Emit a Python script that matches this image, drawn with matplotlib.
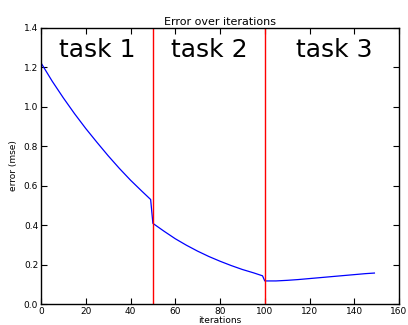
import matplotlib
matplotlib.use("Agg")
import matplotlib.pyplot as plt

# iteration values and error (mse)
iters = [0, 5, 10, 15, 20, 25, 30, 35, 40, 45, 49,
         50, 55, 60, 65, 70, 75, 80, 85, 90, 95, 99,
         100, 105, 110, 115, 120, 125, 130, 135, 140, 145, 149]
error = [1.223, 1.13, 1.045, 0.965, 0.89, 0.82, 0.752, 0.688, 0.628, 0.573, 0.53,
         0.409, 0.369, 0.331, 0.298, 0.268, 0.241, 0.217, 0.195, 0.175, 0.158, 0.143,
         0.117, 0.117, 0.120, 0.124, 0.129, 0.134, 0.139, 0.144, 0.149, 0.154, 0.157]

task_bounds = [50, 100]
task_labels = ["task 1", "task 2", "task 3"]
task_label_x = [25, 75, 131]
task_label_y = 1.29

xticks = [0, 20, 40, 60, 80, 100, 120, 140, 160]
yticks = [0.0, 0.2, 0.4, 0.6, 0.8, 1.0, 1.2, 1.4]

fig = plt.figure(figsize=(4.08, 3.25), dpi=100)
ax = fig.add_axes([0.1005, 0.0646, 0.8775, 0.8494])

ax.plot(iters, error, color="blue", linewidth=0.9)
for b in task_bounds:
    ax.axvline(b, color="red", linewidth=1.0)
for lbl, tx in zip(task_labels, task_label_x):
    ax.text(tx, task_label_y, lbl, fontsize=18, ha="center", va="center")

ax.set_xlim(0, 160)
ax.set_ylim(0, 1.4)
ax.set_xticks(xticks)
ax.set_yticks(yticks)
ax.set_xticklabels([str(t) for t in xticks])
ax.set_yticklabels([f"{t:.1f}" for t in yticks])
ax.tick_params(direction="in", length=4, width=0.8, labelsize=6.5,
               top=True, right=True, pad=2)
for s in ax.spines.values():
    s.set_linewidth(1.0)

ax.set_title("Error over iterations", fontsize=8, pad=2)
ax.set_xlabel("iterations", fontsize=6.5, labelpad=0)
ax.set_ylabel("error (mse)", fontsize=6.5, labelpad=4)

fig.savefig("out.png", dpi=100)
